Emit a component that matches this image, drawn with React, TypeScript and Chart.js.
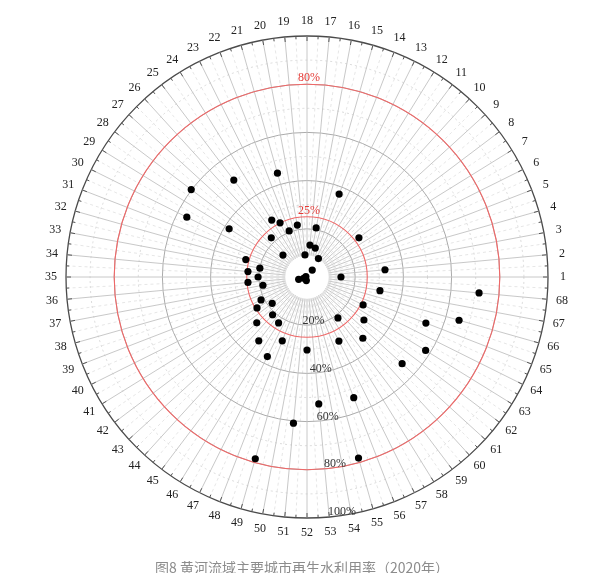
import React, { useEffect, useRef } from "react";
import { Chart, registerables } from "chart.js";
Chart.register(...registerables);

// City numbers (categories), counter-clockwise from the east
const cityLabels: string[] = [
  "1", "2", "3", "4", "5", "6", "7", "8", "9", "10",
  "11", "12", "13", "14", "15", "16", "17", "18", "19", "20",
  "21", "22", "23", "24", "25", "26", "27", "28", "29", "30",
  "31", "32", "33", "34", "35", "36", "37", "38", "39", "40",
  "41", "42", "43", "44", "45", "46", "47", "48", "49", "50",
  "51", "52", "53", "54", "55", "56", "57", "58", "59", "60",
  "61", "62", "63", "64", "65", "66", "67", "68",
];

// Reclaimed water utilisation rate (%) per city, 2020 (null = no point shown)
const reuseRate: (number | null)[] = [
  14.1, 32.5, null, null, null, null, null, 27.0, null, null,
  3.6, 9.0, null, 36.9, 12.5, 20.7, 13.3, null, 9.2, 21.9,
  44.8, 20.5, 25.1, 27.8, 50.4, 22.0, 13.5, 60.2, 38.0, 55.7,
  0.5, 26.4, 19.9, 24.6, 20.3, 24.6, 18.6, 3.6, 1.5, 21.3,
  24.4, 18.1, 28.2, 21.2, 33.2, 22.4, 36.9, 28.4, 78.4, 1.5,
  60.9, 30.3, 52.9, null, 78.1, 53.7, 29.7, null, 21.3, 34.4,
  53.4, 29.6, 57.9, 26.0, 52.9, 65.6, 30.8, 71.7,
];

// Radial tick labels and reference rings
const radialTickValues: number[] = [20, 40, 60, 80, 100];
const minorRingValues: number[] = [30, 50, 70, 90];
const referenceRings: number[] = [25, 80];

const caption = "图8 黄河流域主要城市再生水利用率（2020年）";

const SERIF = '"Liberation Serif", "Times New Roman", serif';

const decor = {
  id: "decor",
  beforeDraw(chart: any) {
    const s = chart.scales.r;
    const ctx = chart.ctx;
    const cx = s.xCenter;
    const cy = s.yCenter;
    const R = s.getDistanceFromCenterForValue(100);
    const hole = s.getDistanceFromCenterForValue(9);
    const n = chart.data.labels.length;
    ctx.save();
    // dashed half-step spokes
    ctx.strokeStyle = "#e0e0e0";
    ctx.lineWidth = 0.8;
    ctx.setLineDash([3, 3]);
    for (let i = 0; i < n; i++) {
      const a = s.getIndexAngle(i) - Math.PI / 2 + Math.PI / n;
      ctx.beginPath();
      ctx.moveTo(cx + Math.cos(a) * hole, cy + Math.sin(a) * hole);
      ctx.lineTo(cx + Math.cos(a) * R, cy + Math.sin(a) * R);
      ctx.stroke();
    }
    // dashed minor rings
    ctx.strokeStyle = "#d2d2d2";
    ctx.setLineDash([2, 3]);
    minorRingValues.forEach((v) => {
      const r = s.getDistanceFromCenterForValue(v);
      ctx.beginPath();
      ctx.arc(cx, cy, r, 0, Math.PI * 2);
      ctx.stroke();
    });
    ctx.restore();
  },
  beforeDatasetsDraw(chart: any) {
    const s = chart.scales.r;
    const ctx = chart.ctx;
    const cx = s.xCenter;
    const cy = s.yCenter;
    const R = s.getDistanceFromCenterForValue(100);
    const hole = s.getDistanceFromCenterForValue(9);
    const n = chart.data.labels.length;
    ctx.save();
    // white hole in the middle
    ctx.fillStyle = "#ffffff";
    ctx.beginPath();
    ctx.arc(cx, cy, hole, 0, Math.PI * 2);
    ctx.fill();

    // outer ticks
    ctx.strokeStyle = "#555";
    ctx.lineWidth = 1;
    for (let i = 0; i < n; i++) {
      const a0 = s.getIndexAngle(i) - Math.PI / 2;
      [[a0, 5], [a0 + Math.PI / n, 3]].forEach(([a, len]) => {
        ctx.beginPath();
        ctx.moveTo(cx + Math.cos(a) * R, cy + Math.sin(a) * R);
        ctx.lineTo(cx + Math.cos(a) * (R - len), cy + Math.sin(a) * (R - len));
        ctx.stroke();
      });
    }

    // red reference rings
    ctx.strokeStyle = "#f06868";
    ctx.lineWidth = 1.1;
    referenceRings.forEach((v) => {
      const r = s.getDistanceFromCenterForValue(v);
      ctx.beginPath();
      ctx.arc(cx, cy, r, 0, Math.PI * 2);
      ctx.stroke();
    });
    ctx.fillStyle = "#e53935";
    ctx.font = `12px ${SERIF}`;
    ctx.textAlign = "center";
    ctx.textBaseline = "middle";
    referenceRings.forEach((v) => {
      const r = s.getDistanceFromCenterForValue(v);
      ctx.fillText(`${v}%`, cx + 2, cy - r - 6);
    });

    // radial percentage labels
    ctx.fillStyle = "#333";
    const ang = (81.5 * Math.PI) / 180;
    radialTickValues.forEach((v) => {
      const r = s.getDistanceFromCenterForValue(v) - 3.5;
      ctx.fillText(`${v}%`, cx + Math.cos(ang) * r, cy + Math.sin(ang) * r);
    });

    // category labels
    ctx.fillStyle = "#222";
    for (let i = 0; i < n; i++) {
      const p = s.getPointPosition(i, R + 15);
      ctx.fillText(String(chart.data.labels[i]), p.x, p.y);
    }
    ctx.restore();
  },
};

export default function App() {
  const ref = useRef<HTMLCanvasElement>(null);
  useEffect(() => {
    const count = cityLabels.length;
    // Chart.js goes clockwise; reverse so numbers increase counter-clockwise
    const order = cityLabels.map((_, i) => (i === 0 ? 0 : count - i));
    const chart = new Chart(ref.current as HTMLCanvasElement, {
      type: "radar",
      data: {
        labels: order.map((i) => cityLabels[i]),
        datasets: [
          {
            data: order.map((i) => reuseRate[i]) as any,
            showLine: false,
            fill: false,
            pointRadius: 3.6,
            pointHoverRadius: 3.6,
            pointBackgroundColor: "#000",
            pointBorderColor: "#000",
            pointBorderWidth: 0,
            borderColor: "#000",
            spanGaps: true,
          },
        ],
      },
      options: {
        responsive: false,
        animation: false,
        devicePixelRatio: 1,
        layout: { padding: { left: 58, right: 57, top: 28, bottom: 55 } },
        plugins: { legend: { display: false }, tooltip: { enabled: false } },
        scales: {
          r: {
            min: 0,
            max: 100,
            startAngle: 90,
            ticks: { display: false, stepSize: 10 },
            pointLabels: { display: false },
            grid: {
              circular: true,
              color: (c: any) => (c.tick && c.tick.value === 100 ? "#4a4a4a" : "#ababab"),
              lineWidth: (c: any) =>
                c.tick && c.tick.value % 20 === 0 ? (c.tick.value === 100 ? 1.3 : 1) : 0,
            },
            angleLines: { color: "#c2c2c2", lineWidth: 0.9 },
          },
        },
      } as any,
      plugins: [decor],
    });
    return () => chart.destroy();
  }, []);

  return (
    <div style={{ position: "relative", width: 597, height: 565 }}>
      <canvas ref={ref} width={597} height={565} style={{ display: "block" }} />
      <div
        style={{
          position: "absolute",
          left: 0,
          top: 550,
          width: 588,
          textAlign: "center",
          font: '14px "Noto Sans CJK SC", sans-serif',
          lineHeight: "18px",
          color: "#8c8c8c",
        }}
      >
        {caption}
      </div>
    </div>
  );
}
